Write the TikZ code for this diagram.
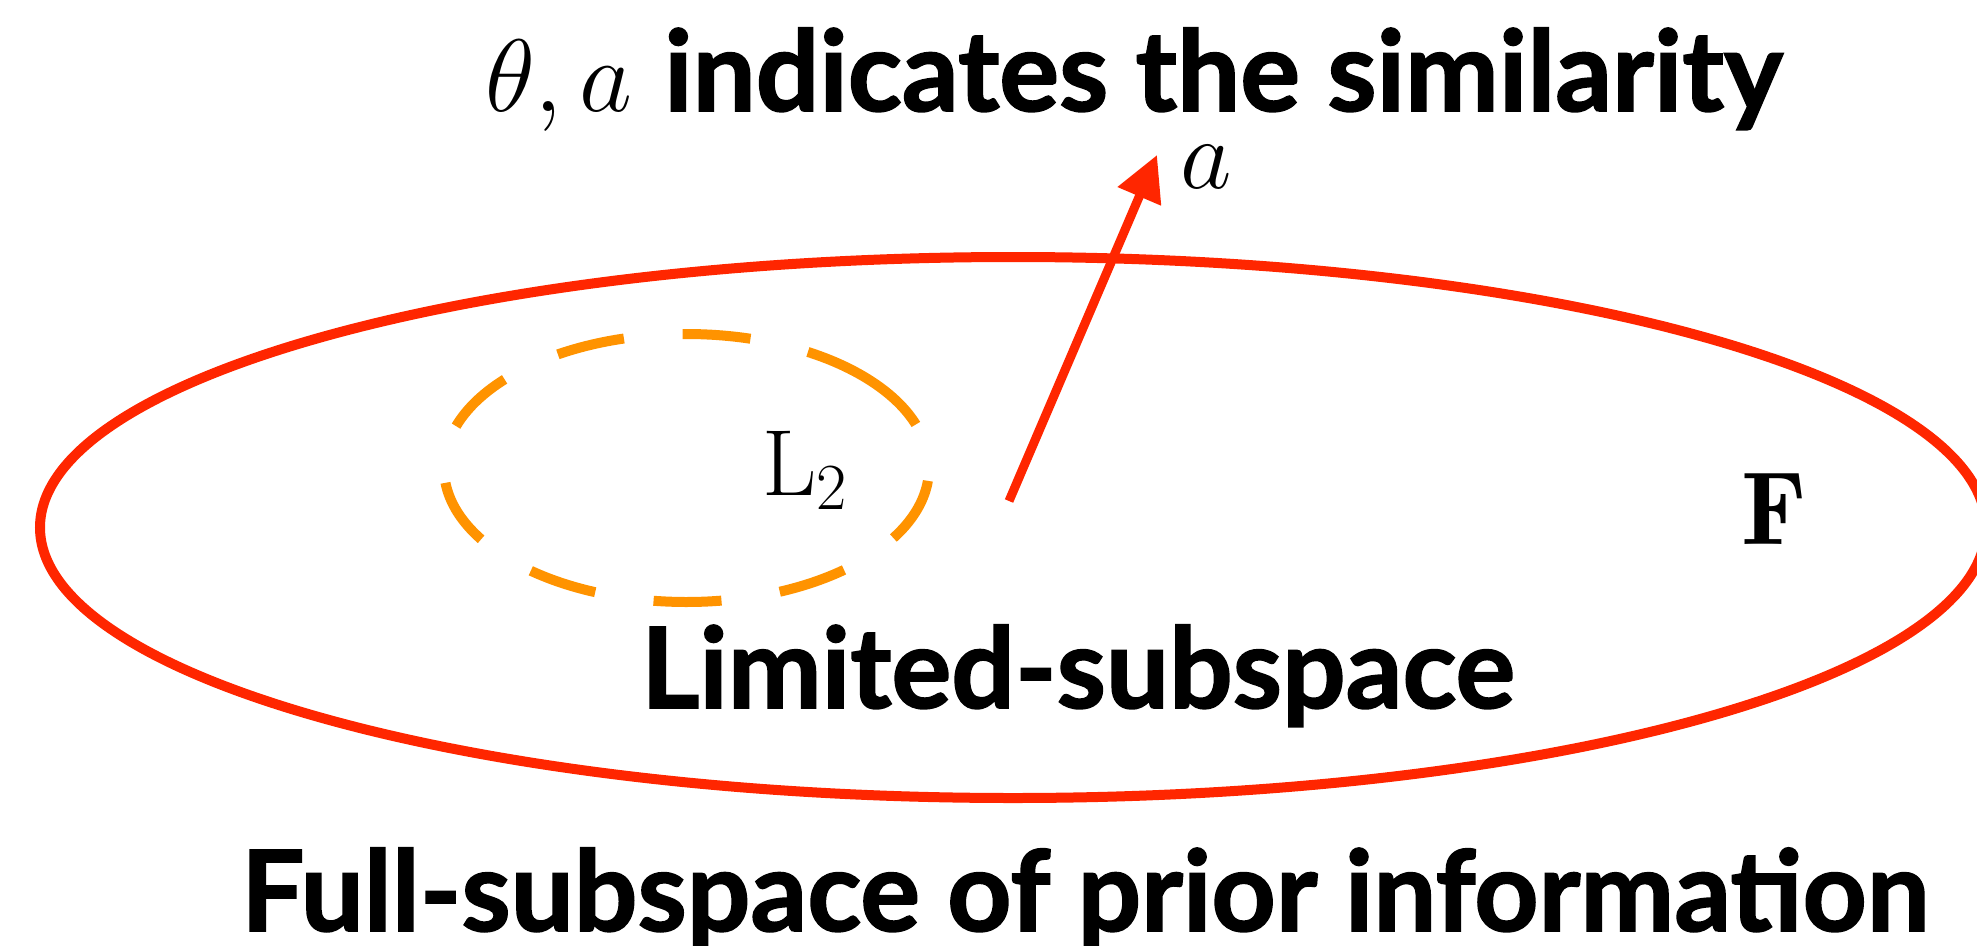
\documentclass[tikz,border=0pt]{standalone}
\usepackage{fix-cm}
\usepackage{fontspec}
\newfontfamily\lato{Lato}[BoldFeatures={FakeBold=1.5}]
\usetikzlibrary{arrows.meta,shapes.geometric}
\definecolor{kred}{HTML}{FF2600}
\definecolor{korange}{HTML}{FF9300}
\tikzset{
  bigtext/.style={font=\lato\bfseries\fontsize{112}{134}\selectfont, inner sep=0pt, anchor=base west},
  mathtext/.style={font=\fontsize{100}{120}\selectfont, inner sep=0pt, anchor=base west},
  fullell/.style={draw=kred, line width=10pt},
  limell/.style={draw=korange, line width=10pt, dash pattern=on 68pt off 59pt},
  vecarrow/.style={draw=kred, line width=9pt, -{Triangle[length=45pt,width=45pt]}}
}
\begin{document}
\begin{tikzpicture}[x=1pt, y=-1pt]
  \useasboundingbox (0,0) rectangle (1977,945);
  \clip (0,0) rectangle (1977,945);
  % full subspace ellipse
  \node[fullell, ellipse, minimum width=1946pt, minimum height=541pt, inner sep=0pt] (full) at (1013,527.5) {};
  % limited subspace (dashed)
  \coordinate (lim) at (686.5,468);
  \draw[limell] (lim) ++(-42:242.5 and 134) arc[start angle=-42, end angle=318, x radius=242.5, y radius=134];
  % vector a
  \coordinate (vstart) at (1009,501);
  \coordinate (vtip) at (1157,155);
  \draw[vecarrow] (vstart) -- (vtip);
  \node[mathtext, anchor=center] (alabel) at (1206,167) {$a$};
  % labels
  \node[mathtext, font=\fontsize{94}{110}\selectfont] (ltwo) at (762,495) {$\mathrm{L}_2$};
  \node[mathtext, font=\fontsize{104}{120}\selectfont] (fnode) at (1741,544) {$\mathbf{F}$};
  % texts
  \node[mathtext, font=\fontsize{103}{120}\selectfont] (thetaa) at (485,111) {$\theta, a$};
  \node[bigtext] (title) at (664,111) {indicates the similarity};
  \node[bigtext] (limtext) at (641,708) {Limited-subspace};
  \node[bigtext] (fulltext) at (241,931) {Full-subspace of prior information};
\end{tikzpicture}
\end{document}
